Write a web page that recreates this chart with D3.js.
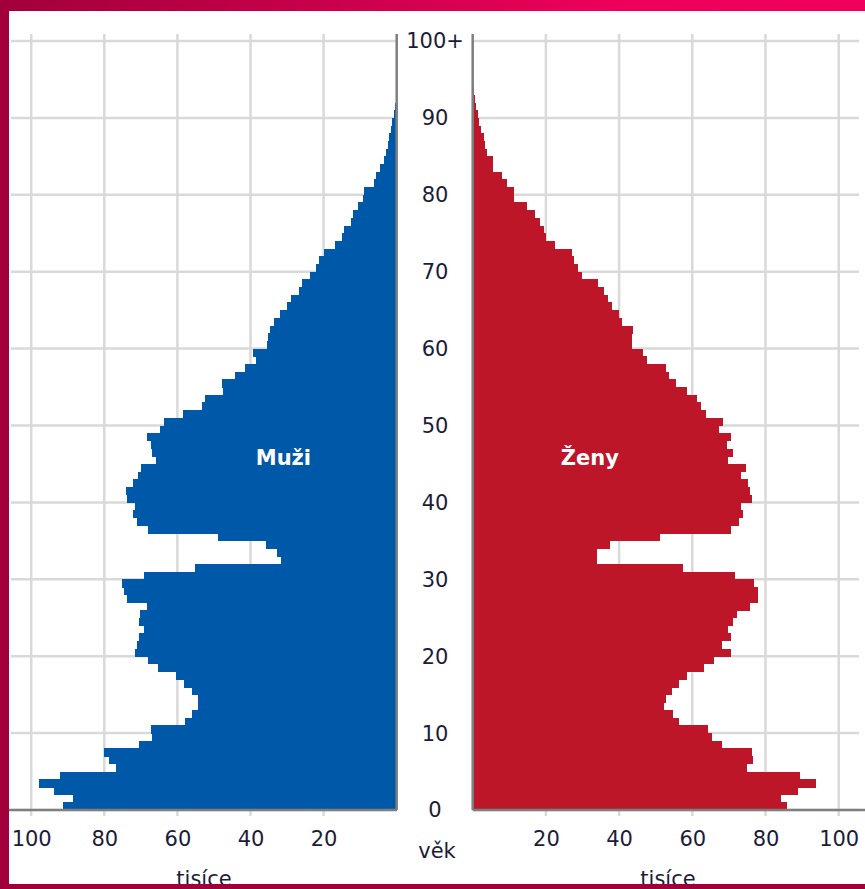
<!DOCTYPE html>
<html>
<head>
<meta charset="utf-8">
<script src="https://cdn.jsdelivr.net/npm/d3@7"></script>
<style>
  body { margin: 0; background: #fff; }
  svg { display: block; font-family: "DejaVu Sans", Verdana, sans-serif; }
</style>
</head>
<body>
<script>
// age 0 .. 100+ , values in thousands
var ages = d3.range(0, 101);

var muzi = [
  91.2, 88.5, 93.7, 97.9, 92.1, 76.9, 78.6, 80.0, 70.5, 66.9,
  67.3, 57.9, 56.1, 54.3, 54.3, 55.9, 58.1, 60.5, 65.2, 68.0,
  71.6, 71.1, 70.4, 69.1, 70.5, 70.2, 68.4, 73.7, 74.6, 75.2,
  69.1, 55.2, 31.7, 32.7, 35.8, 49.0, 68.0, 71.1, 72.1, 71.6,
  73.7, 74.1, 72.1, 70.7, 70.0, 65.9, 66.9, 67.3, 68.4, 64.8,
  63.7, 58.4, 53.4, 52.5, 47.4, 47.9, 44.2, 41.5, 38.5, 39.4,
  35.6, 35.1, 34.7, 33.6, 31.9, 29.9, 29.0, 26.6, 26.0, 23.7,
  22.2, 21.2, 19.9, 16.9, 15.0, 14.3, 12.6, 12.0, 10.5, 9.3,
  8.9, 6.3, 5.6, 4.6, 3.5, 3.0, 2.5, 2.0, 1.5, 1.2,
  0.8, 0.5, 0.3, 0.2, 0.1, 0.1, 0.05, 0.05, 0.02, 0.02, 0.02
];

var zeny = [
  85.8, 84.2, 89.0, 93.7, 89.4, 74.9, 76.7, 76.2, 68.0, 65.3,
  64.2, 56.5, 54.8, 52.3, 52.7, 54.4, 56.5, 58.5, 63.2, 65.9,
  70.6, 68.0, 70.6, 69.7, 71.2, 72.1, 75.8, 78.0, 78.0, 76.9,
  71.7, 57.5, 33.9, 33.9, 37.5, 51.2, 70.6, 72.8, 73.8, 73.2,
  76.4, 75.8, 75.3, 73.2, 74.7, 69.7, 71.0, 69.4, 70.6, 67.4,
  68.5, 63.7, 62.5, 61.2, 58.5, 55.5, 53.7, 52.8, 47.5, 46.6,
  43.4, 43.4, 43.9, 40.7, 40.1, 38.0, 37.1, 35.9, 34.3, 29.8,
  28.7, 27.7, 27.1, 22.5, 20.0, 19.6, 18.4, 17.0, 14.9, 11.4,
  11.2, 9.3, 7.9, 5.6, 5.5, 3.8, 3.3, 3.2, 2.3, 1.6,
  1.4, 0.8, 0.6, 0.3, 0.2, 0.1, 0.1, 0.05, 0.05, 0.02, 0.02
];

var xTicks = [20, 40, 60, 80, 100];
var ageTicks = d3.range(0, 101, 10);

var W = 865, H = 889;

var svg = d3.select("body").append("svg")
  .attr("width", W)
  .attr("height", H);

// frame
var grad = svg.append("defs").append("linearGradient")
  .attr("id", "band")
  .attr("x1", "0%").attr("x2", "100%");
grad.append("stop").attr("offset", "0%").attr("stop-color", "#a1003b");
grad.append("stop").attr("offset", "72%").attr("stop-color", "#ee005a");
grad.append("stop").attr("offset", "100%").attr("stop-color", "#f0005b");

svg.append("rect").attr("x", 0).attr("y", 0).attr("width", W).attr("height", 11).attr("fill", "url(#band)");
svg.append("rect").attr("x", 0).attr("y", 0).attr("width", 9).attr("height", H).attr("fill", "#a1003b");

var y = d3.scaleLinear().domain([0, 100]).range([810, 41]);
var xM = d3.scaleLinear().domain([0, 100]).range([396.7, 31.2]);
var xZ = d3.scaleLinear().domain([0, 100]).range([472.7, 838.7]);

var grid = svg.append("g").attr("stroke", "#d9d9d9").attr("stroke-width", 2.5);

// horizontal grid
grid.selectAll(".hl").data(ageTicks).enter().append("line")
  .attr("x1", 11).attr("x2", xM(0))
  .attr("y1", function(d) { return y(d); }).attr("y2", function(d) { return y(d); });
grid.selectAll(".hr").data(ageTicks).enter().append("line")
  .attr("x1", xZ(0)).attr("x2", 859)
  .attr("y1", function(d) { return y(d); }).attr("y2", function(d) { return y(d); });

// vertical grid
grid.selectAll(".vl").data(xTicks).enter().append("line")
  .attr("x1", function(d) { return xM(d); }).attr("x2", function(d) { return xM(d); })
  .attr("y1", 34).attr("y2", 816);
grid.selectAll(".vr").data(xTicks).enter().append("line")
  .attr("x1", function(d) { return xZ(d); }).attr("x2", function(d) { return xZ(d); })
  .attr("y1", 34).attr("y2", 816);

// bars (crisp edges so neighbouring ages don't leave seams)
svg.append("g").attr("shape-rendering", "crispEdges")
  .selectAll("rect").data(ages).enter().append("rect")
  .attr("x", function(a) { return xM(muzi[a]); })
  .attr("y", function(a) { return y(a + 1); })
  .attr("width", function(a) { return xM(0) - xM(muzi[a]); })
  .attr("height", function(a) { return y(a) - y(a + 1) + 0.6; })
  .attr("fill", "#0058a8");

svg.append("g").attr("shape-rendering", "crispEdges")
  .selectAll("rect").data(ages).enter().append("rect")
  .attr("x", xZ(0))
  .attr("y", function(a) { return y(a + 1); })
  .attr("width", function(a) { return xZ(zeny[a]) - xZ(0); })
  .attr("height", function(a) { return y(a) - y(a + 1) + 0.6; })
  .attr("fill", "#bd1628");

// axis lines
var ax = svg.append("g").attr("stroke", "#7f7f7f").attr("stroke-width", 2.5);
ax.append("line").attr("x1", xM(0)).attr("x2", xM(0)).attr("y1", 34).attr("y2", y(0));
ax.append("line").attr("x1", xZ(0)).attr("x2", xZ(0)).attr("y1", 34).attr("y2", y(0));
ax.append("line").attr("x1", 9).attr("x2", xM(0)).attr("y1", y(0)).attr("y2", y(0));
ax.append("line").attr("x1", xZ(0)).attr("x2", W).attr("y1", y(0)).attr("y2", y(0));

// x axes (labels only)
function styleAxis(g) {
  g.select(".domain").remove();
  g.selectAll(".tick line").remove();
  g.selectAll(".tick text")
    .attr("fill", "#1c1c3a")
    .style("font-size", "21px")
    .style("font-family", "'DejaVu Sans', Verdana, sans-serif");
}

svg.append("g")
  .attr("transform", "translate(0," + y(0) + ")")
  .call(d3.axisBottom(xM).tickValues(xTicks).tickSize(6).tickPadding(15))
  .call(styleAxis);

svg.append("g")
  .attr("transform", "translate(0," + y(0) + ")")
  .call(d3.axisBottom(xZ).tickValues(xTicks).tickSize(6).tickPadding(15))
  .call(styleAxis);

// age labels in the middle
var ageAxis = svg.append("g")
  .attr("transform", "translate(435,0)")
  .call(d3.axisLeft(y).tickValues(ageTicks).tickSize(0)
    .tickFormat(function(d) { return d === 100 ? "100+" : d; }))
  .call(styleAxis);
ageAxis.selectAll(".tick text")
  .attr("x", 0)
  .attr("dy", "0.33em")
  .attr("text-anchor", "middle");

svg.append("text")
  .attr("x", 437).attr("y", 858)
  .attr("text-anchor", "middle")
  .attr("fill", "#1c1c3a")
  .style("font-size", "21px")
  .text("věk");

svg.append("text")
  .attr("x", 204).attr("y", 886)
  .attr("text-anchor", "middle")
  .attr("fill", "#1c1c3a")
  .style("font-size", "21px")
  .text("tisíce");

svg.append("text")
  .attr("x", 668).attr("y", 886)
  .attr("text-anchor", "middle")
  .attr("fill", "#1c1c3a")
  .style("font-size", "21px")
  .text("tisíce");

// bottom band, drawn over the lower part of the unit labels as in the original
svg.append("rect").attr("x", 0).attr("y", 884).attr("width", W).attr("height", 5).attr("fill", "#a0003a");

// series names
svg.append("text")
  .attr("x", xM(31)).attr("y", y(45.8))
  .attr("dy", "0.35em")
  .attr("text-anchor", "middle")
  .attr("fill", "#fff")
  .style("font-size", "21px")
  .style("font-weight", "bold")
  .text("Muži");

svg.append("text")
  .attr("x", xZ(32)).attr("y", y(45.8))
  .attr("dy", "0.35em")
  .attr("text-anchor", "middle")
  .attr("fill", "#fff")
  .style("font-size", "21px")
  .style("font-weight", "bold")
  .text("Ženy");
</script>
</body>
</html>
